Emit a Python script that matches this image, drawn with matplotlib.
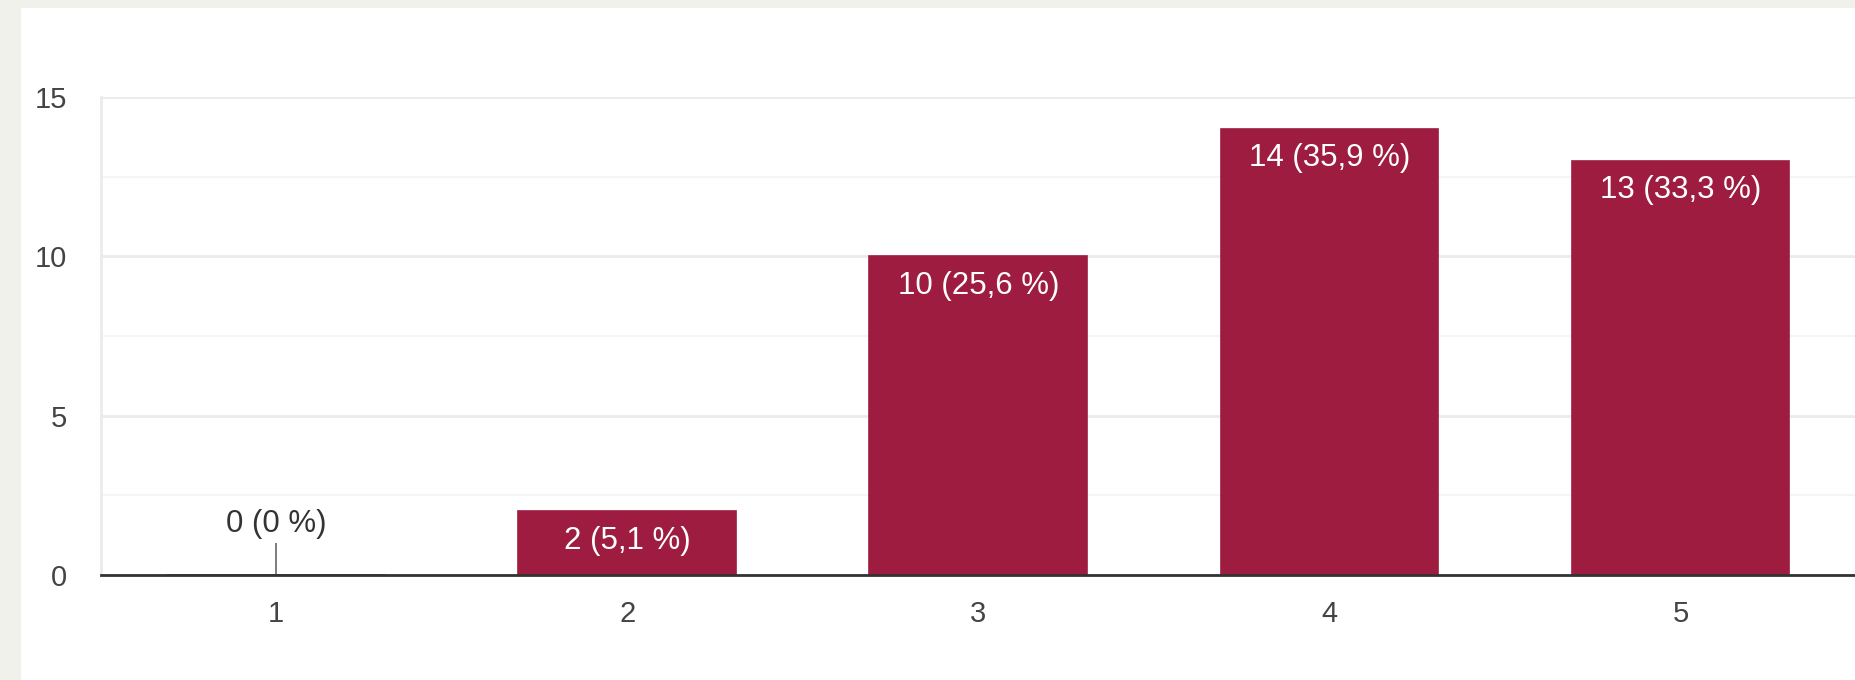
import matplotlib.pyplot as plt
from matplotlib.patches import Rectangle
from matplotlib.ticker import MultipleLocator

categories = ["1", "2", "3", "4", "5"]
counts = [0, 2, 10, 14, 13]
labels = ["0 (0 %)", "2 (5,1 %)", "10 (25,6 %)", "14 (35,9 %)", "13 (33,3 %)"]
y_ticks = [0, 5, 10, 15]

plt.rcParams['font.family'] = ['Liberation Sans', 'DejaVu Sans']
bar_color = '#9d1c3f'

fig = plt.figure(figsize=(18.56, 6.8), dpi=100)
fig.patch.set_facecolor('#f1f1ec')
# white card behind the chart
fig.patches.append(Rectangle((21 / 1856, 0), 1, 1 - 8 / 680, transform=fig.transFigure,
                             facecolor='white', edgecolor='none', zorder=-1))

ax = fig.add_axes([100.6 / 1856, 105 / 680, 1 - 100.6 / 1856, 478 / 680])
ax.set_zorder(2)
ax.set_facecolor('white')

x = list(range(1, len(categories) + 1))
bars = ax.bar(x, counts, width=0.62, color=bar_color, edgecolor=bar_color, linewidth=1.2, zorder=3)

for xi, c, lab in zip(x, counts, labels):
    if c == 0:
        ax.vlines(xi, 0, 1.0, color='#666666', linewidth=1.2, zorder=4)
        ax.text(xi, 1.12, lab, ha='center', va='bottom', fontsize=22.5, color='#333333', zorder=5)
    else:
        ax.text(xi, c - 0.45, lab, ha='center', va='top', fontsize=22.5, color='white', zorder=5)

ax.set_xlim(0.5, 5.5)
ax.set_ylim(0, 15)
ax.set_xticks(x)
ax.set_xticklabels(categories)
ax.set_yticks(y_ticks)
ax.yaxis.set_minor_locator(MultipleLocator(2.5))

ax.grid(axis='y', which='major', color='#ebebeb', linewidth=2, zorder=0)
ax.grid(axis='y', which='minor', color='#f5f5f5', linewidth=1.5, zorder=0)
ax.tick_params(axis='both', which='both', length=0, labelsize=21, labelcolor='#444444')
ax.tick_params(axis='y', pad=24)
ax.tick_params(axis='x', pad=18)

for s in ['top', 'right']:
    ax.spines[s].set_visible(False)
ax.spines['left'].set_color('#ebebeb')
ax.spines['left'].set_linewidth(2)
ax.spines['bottom'].set_color('#333333')
ax.spines['bottom'].set_linewidth(2)
ax.spines['bottom'].set_zorder(6)

fig.savefig('out.png', dpi=100)
